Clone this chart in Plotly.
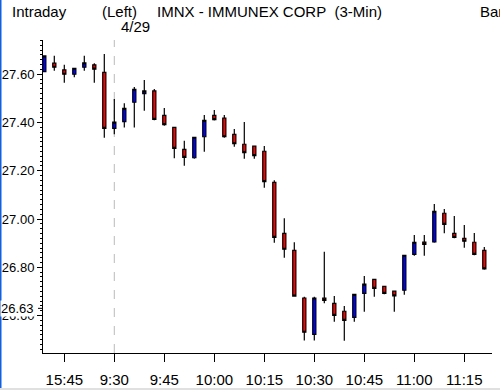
import plotly.graph_objects as go

# ---- data ----
times = ["15:39", "15:42", "15:45", "15:48", "15:51", "15:54", "15:57",
         "9:30", "9:33", "9:36", "9:39", "9:42", "9:45", "9:48", "9:51", "9:54", "9:57",
         "10:00", "10:03", "10:06", "10:09", "10:12", "10:15", "10:18", "10:21", "10:24", "10:27",
         "10:30", "10:33", "10:36", "10:39", "10:42", "10:45", "10:48", "10:51", "10:54", "10:57",
         "11:00", "11:03", "11:06", "11:09", "11:12", "11:15", "11:18", "11:21"]

opens = [27.611, 27.646, 27.618, 27.600, 27.629, 27.639, 27.608,
         27.376, 27.404, 27.484, 27.520, 27.531, 27.430, 27.380, 27.289, 27.254, 27.341,
         27.430, 27.418, 27.351, 27.310, 27.302, 27.281, 27.152, 26.941, 26.870, 26.673,
         26.522, 26.673, 26.651, 26.618, 26.593, 26.692, 26.750, 26.721, 26.701, 26.705,
         26.854, 26.905, 26.905, 27.024, 26.941, 26.920, 26.904, 26.870]
highs = [27.676, 27.677, 27.639, 27.625, 27.677, 27.646, 27.684,
         27.498, 27.480, 27.547, 27.576, 27.539, 27.460, 27.380, 27.324, 27.339, 27.431,
         27.452, 27.431, 27.373, 27.402, 27.302, 27.303, 27.161, 27.003, 26.904, 26.678,
         26.678, 26.865, 26.681, 26.640, 26.688, 26.764, 26.750, 26.721, 26.701, 26.850,
         26.934, 26.934, 27.062, 27.042, 27.013, 26.975, 26.942, 26.884]
lows = [27.611, 27.615, 27.565, 27.588, 27.615, 27.565, 27.337,
        27.351, 27.379, 27.379, 27.449, 27.409, 27.387, 27.252, 27.221, 27.250, 27.279,
        27.408, 27.337, 27.300, 27.250, 27.250, 27.130, 26.902, 26.840, 26.678, 26.497,
        26.497, 26.651, 26.575, 26.496, 26.575, 26.616, 26.678, 26.688, 26.616, 26.686,
        26.848, 26.848, 26.902, 26.941, 26.920, 26.881, 26.850, 26.790]
closes = [27.676, 27.629, 27.600, 27.625, 27.647, 27.621, 27.376,
          27.402, 27.459, 27.538, 27.531, 27.413, 27.391, 27.293, 27.256, 27.339, 27.409,
          27.412, 27.341, 27.312, 27.275, 27.263, 27.155, 26.924, 26.875, 26.681, 26.531,
          26.673, 26.663, 26.601, 26.580, 26.688, 26.730, 26.713, 26.692, 26.682, 26.850,
          26.904, 26.895, 27.032, 26.978, 26.924, 26.908, 26.854, 26.794]

x_tick_labels = ["15:45", "9:30", "9:45", "10:00", "10:15", "10:30", "10:45", "11:00", "11:15"]
y_tick_values = [26.60, 26.80, 27.00, 27.20, 27.40, 27.60]
last_marker = 26.63
session_start = "9:30"

# ---- figure ----
W, H = 500, 390
ML, MR, MT, MB = 43, 8, 40, 37
PW, PH = W - ML - MR, H - MT - MB

def px_x(p):
    return (p - ML) / PW

def px_y(p):
    return (H - MB - p) / PH

xs = list(range(len(times)))
tickpos = [times.index(t) for t in x_tick_labels]
split = times.index(session_start)

FONT = "Liberation Sans, Arial, sans-serif"

fig = go.Figure()
fig.add_trace(go.Candlestick(
    x=xs, open=opens, high=highs, low=lows, close=closes,
    increasing=dict(fillcolor="#0000FF", line=dict(color="black", width=1.2)),
    decreasing=dict(fillcolor="#FF0000", line=dict(color="black", width=1.2)),
    whiskerwidth=0, hoverinfo="skip", showlegend=False,
))

shapes = [
    dict(type="line", xref="x", yref="paper", x0=split, x1=split, y0=0, y1=1,
         line=dict(color="#BBBBBB", width=1, dash="dash"), layer="below"),
    dict(type="line", xref="paper", yref="y", x0=px_x(38), x1=px_x(43),
         y0=last_marker, y1=last_marker, line=dict(color="black", width=1)),
    dict(type="line", xref="paper", yref="paper", x0=px_x(0.5), x1=px_x(0.5),
         y0=px_y(0), y1=px_y(H), line=dict(color="#1060E0", width=2)),
    dict(type="line", xref="paper", yref="paper", x0=px_x(0), x1=px_x(W),
         y0=px_y(389), y1=px_y(389), line=dict(color="#E0E0E0", width=2)),
]

ann_font = dict(family=FONT, size=15, color="black")
annotations = [
    dict(text="Intraday", x=px_x(11), y=px_y(11)),
    dict(text="(Left)", x=px_x(101), y=px_y(11)),
    dict(text="IMNX - IMMUNEX CORP\u00a0\u00a0(3-Min)", x=px_x(156), y=px_y(11)),
    dict(text="Bar", x=px_x(479), y=px_y(11)),
    dict(text="4/29", x=px_x(120), y=px_y(26)),
]
for a in annotations:
    a.update(xref="paper", yref="paper", showarrow=False, font=ann_font, borderpad=0,
             xanchor="left", yanchor="middle")
annotations.append(dict(
    text="26.63", xref="paper", yref="y", x=px_x(35), y=last_marker,
    xanchor="right", yanchor="middle", showarrow=False, bgcolor="white",
    font=dict(family=FONT, size=13, color="black"), borderpad=0))

fig.update_layout(
    width=W, height=H,
    margin=dict(l=ML, r=MR, t=MT, b=MB, pad=0, autoexpand=False),
    paper_bgcolor="white", plot_bgcolor="white",
    boxgap=0.55,
    shapes=shapes, annotations=annotations,
    xaxis=dict(
        range=[-0.13, len(times) - 0.23],
        tickmode="array", tickvals=tickpos, ticktext=x_tick_labels,
        ticks="outside", ticklen=8, tickcolor="black", tickwidth=1,
        ticklabelstandoff=5,
        showline=True, linecolor="black", linewidth=1,
        showgrid=False, zeroline=False, automargin=False,
        rangeslider=dict(visible=False),
        tickfont=dict(family=FONT, size=15, color="black"),
        fixedrange=True,
    ),
    yaxis=dict(
        range=[26.445, 27.742],
        tickmode="array", tickvals=y_tick_values, tickformat=".2f",
        ticks="outside", ticklen=5, tickcolor="black", tickwidth=1,
        minor=dict(dtick=0.02, tick0=26.60, ticks="outside", ticklen=2, tickcolor="black"),
        showline=True, linecolor="black", linewidth=1,
        showgrid=False, zeroline=False, automargin=False,
        tickfont=dict(family=FONT, size=13, color="black"),
        fixedrange=True,
    ),
)

fig.write_html("out.html", config={"displayModeBar": False},
               post_script="document.body.style.margin='0';")
